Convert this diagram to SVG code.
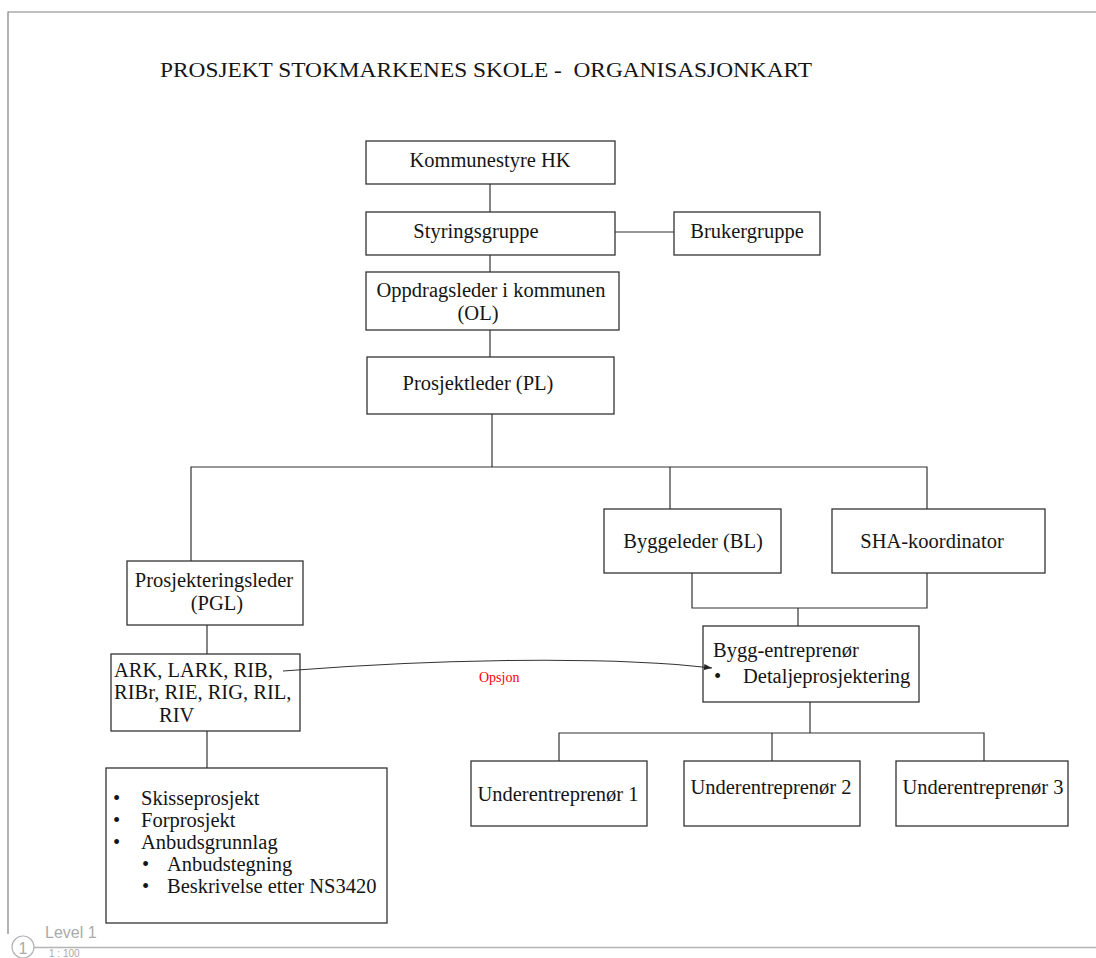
<svg xmlns="http://www.w3.org/2000/svg" width="1096" height="958" viewBox="0 0 1096 958">
<defs>
<style>
.box{fill:#fff;stroke:#333;stroke-width:1.3}
.t{font-family:"Liberation Serif","Times New Roman",serif;font-size:20.5px;fill:#151515}
.c{text-anchor:middle}
.ln{fill:none;stroke:#333;stroke-width:1.2}
.frame{fill:none;stroke:#808080;stroke-width:1.2}
.lvl{font-family:"Liberation Sans",Arial,sans-serif;fill:#aaa}
</style>
<marker id="arr" viewBox="0 0 8 6" refX="8" refY="3" markerWidth="8" markerHeight="6" markerUnits="userSpaceOnUse" orient="auto">
<path d="M0,0 L8,3 L0,6 Z" fill="#222"/>
</marker>
</defs>
<rect width="1096" height="958" fill="#fff"/>
<g id="frame">
<path class="frame" d="M8,934 V12 H1096"/>
<line x1="34" y1="947.5" x2="1096" y2="947.5" stroke="#b4b4b4" stroke-width="1.5"/>
<circle cx="23" cy="947" r="11" fill="none" stroke="#b4b4b4" stroke-width="1.2"/>
<text class="lvl" x="23" y="954" font-size="16" text-anchor="middle">1</text>
<text class="lvl" x="45" y="938" font-size="16">Level 1</text>
<text class="lvl" x="49" y="957" font-size="10">1 : 100</text>
</g>
<text id="title" class="t" x="160" y="77" style="font-size:22px" xml:space="preserve" textLength="652" lengthAdjust="spacingAndGlyphs">PROSJEKT STOKMARKENES SKOLE -  ORGANISASJONKART</text>
<g id="n-kommunestyre">
<rect class="box" x="366" y="141" width="249" height="43"/>
<text class="t c" x="490" y="167">Kommunestyre HK</text>
</g>
<g id="n-styringsgruppe">
<rect class="box" x="366" y="212" width="249" height="43"/>
<text class="t c" x="476" y="238">Styringsgruppe</text>
</g>
<g id="n-brukergruppe">
<rect class="box" x="674" y="212" width="146" height="43"/>
<text class="t c" x="747" y="238">Brukergruppe</text>
</g>
<g id="n-oppdragsleder">
<rect class="box" x="366" y="272" width="253" height="58"/>
<text class="t c" x="491" y="297">Oppdragsleder i kommunen</text>
<text class="t c" x="478" y="320">(OL)</text>
</g>
<g id="n-prosjektleder">
<rect class="box" x="367" y="357" width="247" height="57"/>
<text class="t c" x="478" y="390">Prosjektleder (PL)</text>
</g>
<g id="n-pgl">
<rect class="box" x="127" y="561" width="176" height="64"/>
<text class="t c" x="214" y="587">Prosjekteringsleder</text>
<text class="t c" x="217" y="610">(PGL)</text>
</g>
<g id="n-ark">
<rect class="box" x="111" y="654" width="189" height="77"/>
<text class="t" x="114" y="677">ARK, LARK, RIB,</text>
<text class="t" x="114" y="699">RIBr, RIE, RIG, RIL,</text>
<text class="t" x="159" y="722">RIV</text>
</g>
<g id="n-faser">
<rect class="box" x="106" y="768" width="281" height="155"/>
<text class="t" x="113" y="805">•</text><text class="t" x="141" y="805">Skisseprosjekt</text>
<text class="t" x="113" y="827">•</text><text class="t" x="141" y="827">Forprosjekt</text>
<text class="t" x="113" y="849">•</text><text class="t" x="141" y="849">Anbudsgrunnlag</text>
<text class="t" x="142" y="871">•</text><text class="t" x="167" y="871">Anbudstegning</text>
<text class="t" x="142" y="893">•</text><text class="t" x="167" y="893">Beskrivelse etter NS3420</text>
</g>
<g id="n-byggeleder">
<rect class="box" x="604" y="509" width="177" height="64"/>
<text class="t c" x="693" y="548">Byggeleder (BL)</text>
</g>
<g id="n-sha">
<rect class="box" x="832" y="509" width="213" height="64"/>
<text class="t c" x="932" y="548">SHA-koordinator</text>
</g>
<g id="n-bygg">
<rect class="box" x="703" y="626" width="216" height="76"/>
<text class="t" x="713" y="657">Bygg-entreprenør</text>
<text class="t" x="714" y="683">•</text><text class="t" x="743" y="683">Detaljeprosjektering</text>
</g>
<g id="n-ue1">
<rect class="box" x="471" y="761" width="176" height="65"/>
<text class="t c" x="558" y="801">Underentreprenør 1</text>
</g>
<g id="n-ue2">
<rect class="box" x="684" y="761" width="176" height="65"/>
<text class="t c" x="771" y="794">Underentreprenør 2</text>
</g>
<g id="n-ue3">
<rect class="box" x="896" y="761" width="172" height="65"/>
<text class="t c" x="983" y="794">Underentreprenør 3</text>
</g>
<g id="connectors">
<path class="ln" d="M490,184 V212"/>
<path class="ln" d="M615,232 H674"/>
<path class="ln" d="M490,255 V272"/>
<path class="ln" d="M490,330 V357"/>
<path class="ln" d="M492,414 V467"/>
<path class="ln" d="M191,561 V467 H927 V509"/>
<path class="ln" d="M670,467 V509"/>
<path class="ln" d="M207,625 V654"/>
<path class="ln" d="M207,731 V768"/>
<path class="ln" d="M692,573 V608 H927 V573"/>
<path class="ln" d="M798,608 V626"/>
<path class="ln" d="M810,702 V733"/>
<path class="ln" d="M559,761 V733 H984 V761"/>
<path class="ln" d="M772,733 V761"/>
<path class="ln" d="M283,671 C420,660 600,655 712,668" marker-end="url(#arr)" stroke-width="1"/>
<text x="479" y="682" font-family="'Liberation Serif','Times New Roman',serif" font-size="14" fill="#ff0000">Opsjon</text>
</g>
</svg>
